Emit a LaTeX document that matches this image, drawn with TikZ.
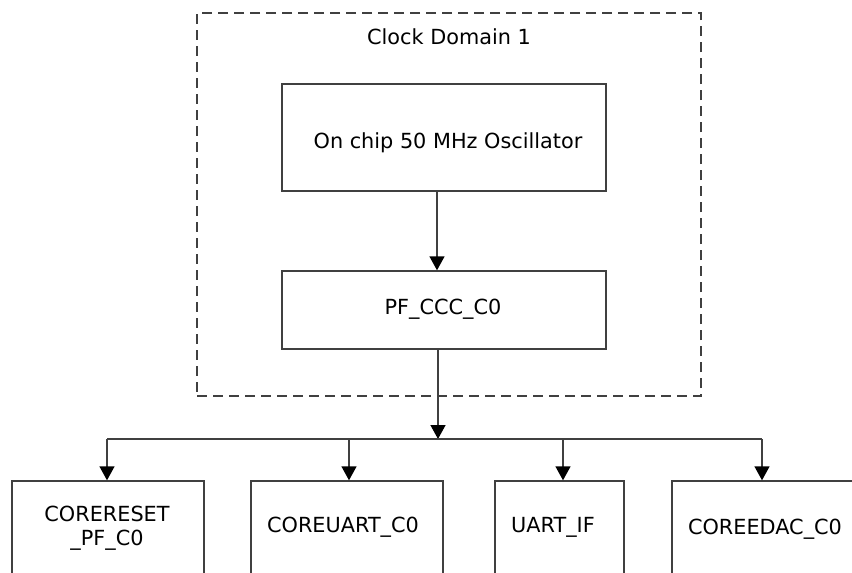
\documentclass[tikz,border=0pt]{standalone}
\usepackage{fontspec}
\setmainfont{DejaVu Sans}
\usetikzlibrary{arrows.meta}
\definecolor{ln}{HTML}{404040}
\tikzset{
  box/.style={draw=ln, line width=1.4pt, rectangle, inner sep=0pt},
  txt/.style={font=\fontsize{20.8}{24}\selectfont, text=black, align=center, inner sep=0pt},
  arr/.style={draw=ln, line width=1.4pt, -{Triangle[length=14pt,width=15pt,fill=black,color=black]}},
  wire/.style={draw=ln, line width=1.4pt},
  domainbox/.style={draw=ln, line width=1.4pt, dash pattern=on 10pt off 6pt}
}
\begin{document}
\begin{tikzpicture}[x=1pt,y=-1pt]
\useasboundingbox (0,0) rectangle (852,573);
\clip (0,0) rectangle (852,573);
\fill[white] (0,0) rectangle (852,573);
% clock domain
\node[domainbox, rectangle, minimum width=504pt, minimum height=383pt, inner sep=0pt] (dom) at (449,204.5) {};
\node[txt] (domt) at (449,37) {Clock Domain 1};
% oscillator
\node[box, minimum width=324pt, minimum height=107pt] (osc) at (444,137.5) {};
\node[txt] (osct) at (448,143) {On chip 50 MHz Oscillator};
% PF_CCC
\node[box, minimum width=324pt, minimum height=78pt] (pf) at (444,310) {};
\node[txt] (pft) at (443,309) {PF\_CCC\_C0};
% bottom boxes
\node[box, minimum width=192pt, minimum height=140pt] (b1) at (108,551) {};
\node[box, minimum width=192pt, minimum height=140pt] (b2) at (347,551) {};
\node[box, minimum width=129pt, minimum height=140pt] (b3) at (559.5,551) {};
\node[box, minimum width=184pt, minimum height=140pt] (b4) at (764,551) {};
\node[txt] (b1t) at (107,528) {CORERESET\\\_PF\_C0};
\node[txt] (b2t) at (343,527) {COREUART\_C0};
\node[txt] (b3t) at (553,527) {UART\_IF};
\node[txt] (b4t) at (765,529) {COREEDAC\_C0};
% connectors
\coordinate (c0) at (437,0);
\coordinate (bus) at (438,439);
\coordinate (bus1) at (107,439);
\coordinate (bus2) at (349,439);
\coordinate (bus3) at (563,439);
\coordinate (bus4) at (762,439);
\draw[arr] (c0 |- osc.south) -- (c0 |- pf.north);
\draw[arr] (bus |- pf.south) -- (bus);
\draw[wire] (bus1) -- (bus4);
\draw[arr] (bus1) -- (bus1 |- b1.north);
\draw[arr] (bus2) -- (bus2 |- b2.north);
\draw[arr] (bus3) -- (bus3 |- b3.north);
\draw[arr] (bus4) -- (bus4 |- b4.north);
\end{tikzpicture}
\end{document}
